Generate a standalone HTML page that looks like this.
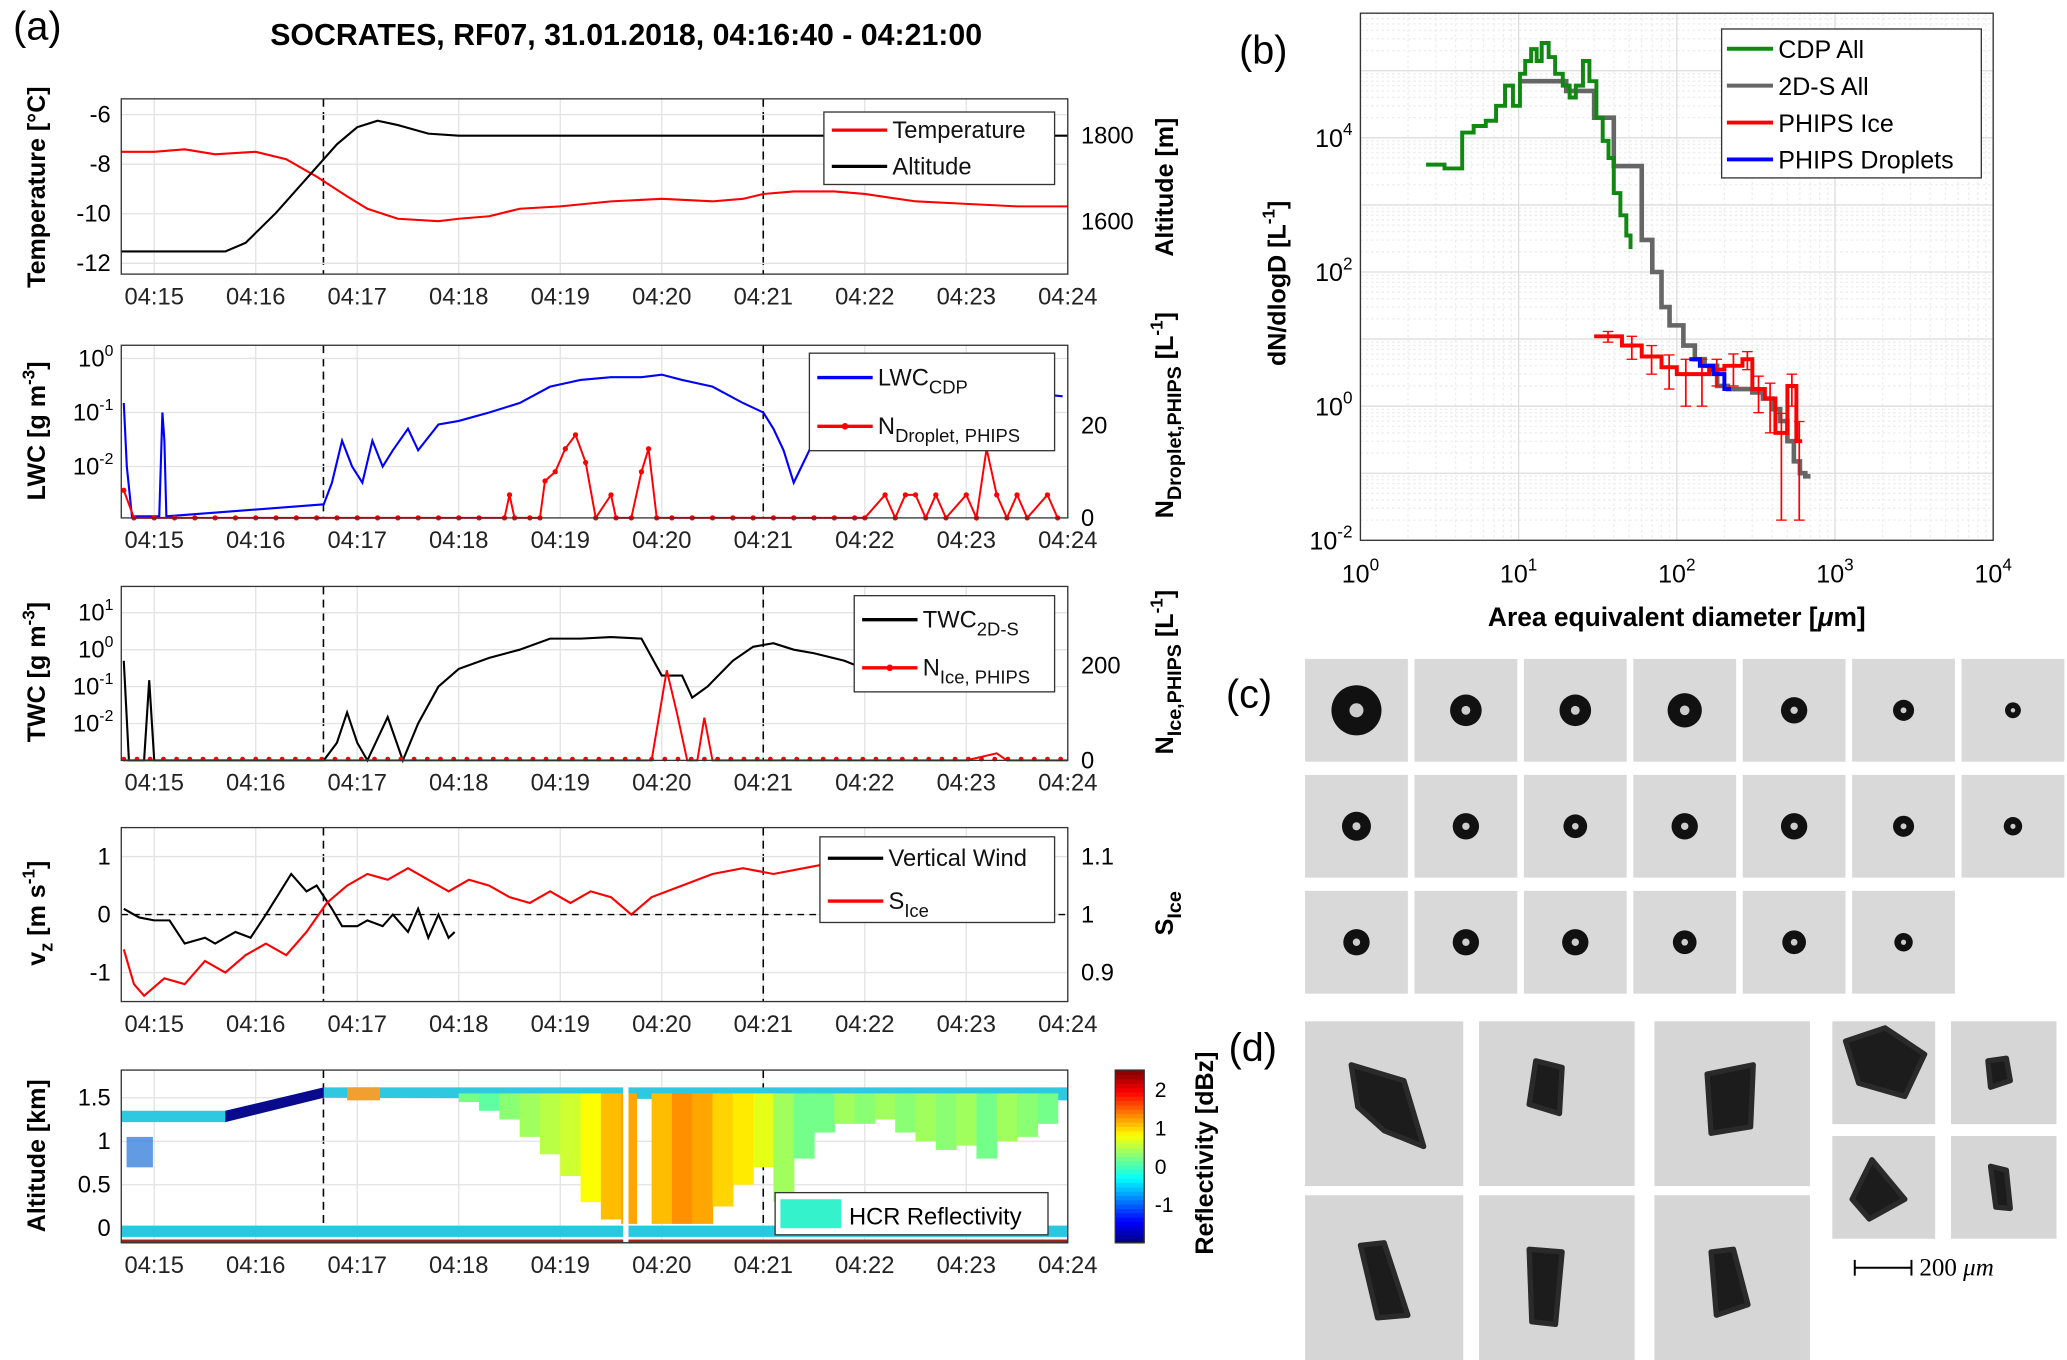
<!DOCTYPE html>
<html><head><meta charset="utf-8"><style>
html,body{margin:0;padding:0;background:#fff;}
svg{display:block;font-family:"Liberation Sans",sans-serif;}
</style></head><body>
<svg id="fig" width="2067" height="1360" viewBox="0 0 1568 1032" preserveAspectRatio="none" xmlns="http://www.w3.org/2000/svg">
<rect width="1568" height="1032" fill="#fff"/>
<g id="root"></g>
</svg>
<script>
// ---------- DATA (panel a) ----------
const timeTicks = ["04:15","04:16","04:17","04:18","04:19","04:20","04:21","04:22","04:23","04:24"];
const tempT = [-0.33,0,0.3,0.6,1,1.3,1.6,1.9,2.1,2.4,2.8,3,3.3,3.6,4,4.5,5,5.5,5.8,6,6.3,6.7,7,7.5,8,8.5,9];
const tempV = [-7.5,-7.5,-7.4,-7.6,-7.5,-7.8,-8.5,-9.3,-9.8,-10.2,-10.3,-10.2,-10.1,-9.8,-9.7,-9.5,-9.4,-9.5,-9.4,-9.2,-9.1,-9.1,-9.2,-9.5,-9.6,-9.7,-9.7];
const altT = [-0.33,0.7,0.9,1.2,1.5,1.8,2.0,2.2,2.4,2.7,3,9];
const altV = [1530,1530,1550,1620,1700,1780,1820,1835,1825,1805,1800,1800];
const lwcT = [-0.3,-0.27,-0.22,-0.2,0.05,0.08,0.1,0.12,1.67,1.75,1.85,1.95,2.05,2.15,2.25,2.35,2.5,2.6,2.8,3,3.3,3.6,3.9,4.2,4.5,4.8,5,5.2,5.5,5.8,6,6.1,6.2,6.3,6.5,6.7,6.9,7.1,7.3,7.5,8,8.95];
const lwcV = [0.15,0.01,0.0012,0.0012,0.0012,0.1,0.03,0.0012,0.002,0.005,0.03,0.01,0.005,0.03,0.01,0.02,0.05,0.02,0.06,0.07,0.1,0.15,0.3,0.4,0.45,0.45,0.5,0.4,0.3,0.15,0.1,0.05,0.02,0.005,0.03,0.12,0.3,0.35,0.3,0.2,0.3,0.2];
const ndT = [-0.3,-0.2,0,0.2,0.4,0.6,0.8,1,1.2,1.4,1.6,1.8,2,2.2,2.4,2.6,2.8,3,3.2,3.45,3.5,3.55,3.7,3.8,3.85,3.95,4.05,4.15,4.25,4.35,4.5,4.55,4.7,4.8,4.87,4.95,5.1,5.3,5.5,5.7,5.9,6.1,6.3,6.5,6.7,6.9,7.0,7.2,7.3,7.4,7.5,7.6,7.7,7.8,8.0,8.1,8.2,8.3,8.4,8.5,8.6,8.8,8.9];
const ndV = [6,0,0,0,0,0,0,0,0,0,0,0,0,0,0,0,0,0,0,0,5,0,0,0,8,10,15,18,12,0,5,0,0,10,15,0,0,0,0,0,0,0,0,0,0,0,0,5,0,5,5,0,5,0,5,0,15,5,0,5,0,5,0];
const twcT = [-0.3,-0.25,-0.1,-0.05,0.0,1.67,1.8,1.9,2.0,2.1,2.3,2.45,2.6,2.8,3,3.3,3.6,3.9,4.2,4.5,4.8,5.0,5.2,5.3,5.45,5.7,5.9,6.1,6.3,6.5,6.8,7.0];
const twcV = [0.5,0.001,0.001,0.15,0.001,0.001,0.003,0.02,0.003,0.001,0.015,0.001,0.01,0.1,0.3,0.6,1,2,2,2.2,2,0.2,0.2,0.05,0.1,0.5,1.2,1.5,1.0,0.8,0.5,0.3];
const niT = [-0.3,0,0.5,1,1.5,2,2.5,3,3.5,4,4.5,4.9,5.05,5.15,5.25,5.35,5.42,5.5,6,6.5,7,7.5,8,8.3,8.4,8.5,9];
const niV = [0,0,0,0,0,0,0,0,0,0,0,0,190,100,0,0,90,0,0,0,0,0,0,15,0,0,0];
const vzT = [-0.3,-0.15,0,0.15,0.3,0.5,0.6,0.8,0.95,1.1,1.35,1.5,1.6,1.75,1.85,2.0,2.1,2.25,2.35,2.5,2.6,2.7,2.8,2.9,2.96];
const vzV = [0.1,-0.05,-0.1,-0.1,-0.5,-0.4,-0.5,-0.3,-0.4,0,0.7,0.4,0.5,0.1,-0.2,-0.2,-0.1,-0.2,0,-0.3,0.1,-0.4,0,-0.4,-0.3];
const siT = [-0.3,-0.2,-0.1,0.1,0.3,0.5,0.7,0.9,1.1,1.3,1.5,1.7,1.9,2.1,2.3,2.5,2.7,2.9,3.1,3.3,3.5,3.7,3.9,4.1,4.3,4.5,4.7,4.9,5.2,5.5,5.8,6.1,6.4,6.7,6.9,7.1,7.3,7.5];
const siV = [0.94,0.88,0.86,0.89,0.88,0.92,0.90,0.93,0.95,0.93,0.97,1.02,1.05,1.07,1.06,1.08,1.06,1.04,1.06,1.05,1.03,1.02,1.04,1.02,1.04,1.03,1.0,1.03,1.05,1.07,1.08,1.07,1.08,1.09,1.1,1.13,1.1,1.08];
// radar columns: time, top km, bottom km, reflectivity dBZ
const radT = [3.0,3.2,3.4,3.6,3.8,4.0,4.2,4.4,4.6,4.75,4.9,5.1,5.3,5.5,5.7,5.9,6.1,6.3,6.5,6.7,6.9,7.1,7.3,7.5,7.7,7.9,8.1,8.3,8.5,8.7,8.9];
const radTop = [1.55,1.55,1.55,1.55,1.55,1.55,1.55,1.55,1.55,1.55,1.55,1.55,1.55,1.55,1.55,1.55,1.55,1.55,1.55,1.55,1.55,1.55,1.55,1.55,1.55,1.55,1.55,1.55,1.55,1.55,1.55];
const radBot = [1.45,1.35,1.25,1.05,0.85,0.6,0.3,0.1,0.05,0.05,0.05,0.05,0.05,0.25,0.5,0.7,0.3,0.8,1.1,1.2,1.2,1.25,1.1,1.0,0.9,0.95,0.8,1.0,1.05,1.2,1.0];
const radZ = [0.2,0.1,0.3,0.4,0.5,0.6,0.8,1.1,1.2,null,1.1,1.3,1.2,1.0,0.9,0.7,0.4,0.2,0.2,0.4,0.3,0.4,0.3,0.4,0.3,0.4,0.2,0.4,0.3,0.2,0.3];
// ---------- DATA (panel b) ----------
const cdpD = [2.6,3.4,4.4,5.2,6.2,7.2,8.2,9.2,10.2,11,12,13,14,15.5,17,19,21,23,25.5,28,31,34,37,40,44,48,51];
const cdpN = [4000,3500,12000,15000,18000,30000,60000,30000,90000,140000,210000,140000,260000,160000,90000,60000,40000,60000,140000,70000,20000,9000,5000,1500,700,350,220];
const sdsD = [10,20,30,40,50,60,70,80,90,110,130,150,180,210,250,300,350,400,450,500,550,600,650,700];
const sdsN = [70000,50000,20000,3800,3800,300,100,30,16,8,5,4,2,1.8,1.8,1.6,1.3,0.9,0.6,0.3,0.15,0.1,0.09];
const phD = [30,45,60,80,100,130,160,200,260,300,360,420,500,570,620];
const phN = [11,8,5.5,3.8,3,3,3.5,4,5,1.8,1.3,0.4,2,0.3];
const phErr = [2,3,2.5,2,2,2,1.5,2,1.5,1,0.9,0.38,1,0.29];
const pdD = [120,140,170,200,220];
const pdN = [5,4,3,1.8];
const xTickB = ["10","10","10","10","10"], xTickExpB = ["0","1","2","3","4"];
const yTickExpB = ["-2","0","2","4"];

// ---------- helpers ----------
const NS="http://www.w3.org/2000/svg";
const root=document.getElementById('root');
function mk(tag,attrs,parent,name,inter){const e=document.createElementNS(NS,tag);for(const k in attrs)e.setAttribute(k,attrs[k]);(parent||root).appendChild(e);if(name){}return e;}
function txt(x,y,s,attrs,name){const e=mk('text',Object.assign({x:x,y:y},attrs||{}),root);e.innerHTML=s;return e;}
const X0=92,X1=810;
const tx=t=>117+t*77;
function pathD(xs,ys,fx,fy){return xs.map((v,i)=>(i?'L':'M')+fx(v).toFixed(1)+','+fy(ys[i]).toFixed(1)).join('');}
function stepD(xs,ys,fx,fy){let d='';for(let i=0;i<ys.length;i++){d+=(i?'L':'M')+fx(xs[i]).toFixed(1)+','+fy(ys[i]).toFixed(1)+'L'+fx(xs[i+1]).toFixed(1)+','+fy(ys[i]).toFixed(1);}return d;}

function timeAxis(top,bot,name){
  const g=mk('g',{},root,name);
  for(let i=0;i<timeTicks.length;i++){const x=tx(i);mk('line',{x1:x,x2:x,y1:top,y2:bot,stroke:'#e3e3e3','stroke-width':1},g);
    const t=mk('text',{x:x,y:bot+23,'font-size':18,'text-anchor':'middle',fill:'#222'},g);t.textContent=timeTicks[i];
    
    }
  [1.667,6].forEach(t=>mk('line',{x1:tx(t),x2:tx(t),y1:top,y2:bot,stroke:'#000','stroke-width':1.2,'stroke-dasharray':'6,4'},g));
  return g;
}
function box(top,bot,name){mk('rect',{x:X0,y:top,width:X1-X0,height:bot-top,fill:'none',stroke:'#333','stroke-width':1},root,name);}
function legend(x,y,w,h,items,name){const g=mk('g',{},root,name);mk('rect',{x:x,y:y,width:w,height:h,fill:'#fff',stroke:'#333'},g);
  items.forEach((it,i)=>{const yy=y+h*(i+0.5)/items.length;mk('line',{x1:x+6,x2:x+48,y1:yy,y2:yy,stroke:it.c,'stroke-width':2.5},g);
    if(it.m)mk('circle',{cx:x+27,cy:yy,r:2.5,fill:it.c},g);
    const t=mk('text',{x:x+52,y:yy+6,'font-size':18,fill:'#111'},g);t.innerHTML=it.t;
    
    });}
function ylab(x,y,s,name,rot){const t=txt(x,y,s,{'font-size':19,'font-weight':'bold','text-anchor':'middle',transform:`rotate(${rot||-90} ${x} ${y})`},name);return t;}

// titles
txt(10,30,'(a)',{'font-size':30},'panel-a-label');
txt(475,34,'SOCRATES, RF07, 31.01.2018, 04:16:40 - 04:21:00',{'font-size':23,'font-weight':'bold','text-anchor':'middle'},'chart-title');

// ---- Panel 1: temperature / altitude ----
(function(){const top=75,bot=208;timeAxis(top,bot,'temp-x-axis');
 const fy=v=>87+(-6-v)*18.8, fa=v=>103-(v-1800)*0.325;
 [-6,-8,-10,-12].forEach(v=>{mk('line',{x1:X0,x2:X1,y1:fy(v),y2:fy(v),stroke:'#e3e3e3'});txt(84,fy(v)+6,String(v),{'font-size':18,'text-anchor':'end'},'y-tick-label');});
 [1800,1600].forEach(v=>txt(820,fa(v)+6,v,{'font-size':18},'y2-tick-label'));
 mk('path',{d:pathD(tempT,tempV,tx,fy),fill:'none',stroke:'#f00','stroke-width':1.6},root,'temperature-line');
 mk('path',{d:pathD(altT,altV,tx,fa),fill:'none',stroke:'#000','stroke-width':1.6},root,'altitude-line');
 box(top,bot,'temp-plot-area');
 legend(625,85,175,55,[{c:'#f00',t:'Temperature'},{c:'#000',t:'Altitude'}],'temp-legend');
 ylab(34,142,'Temperature [°C]','temperature-y-title');ylab(890,142,'Altitude [m]','altitude-y-title');})();

// ---- Panel 2: LWC ----
(function(){const top=262,bot=393;timeAxis(top,bot,'lwc-x-axis');
 const fy=v=>272-Math.log10(v)*41, fn=v=>393-v*3.5;
 [1,0.1,0.01].forEach((v,i)=>{mk('line',{x1:X0,x2:X1,y1:fy(v),y2:fy(v),stroke:'#e3e3e3'});txt(86,fy(v)+6,'10<tspan dy="-8" font-size="12">'+(i?'-'+i:'0')+'</tspan>',{'font-size':18,'text-anchor':'end'},'y-tick-label');});
 [20,0].forEach(v=>txt(820,fn(v)+6,v,{'font-size':18},'y2-tick-label'));
 mk('path',{d:pathD(lwcT,lwcV,tx,fy),fill:'none',stroke:'#00f','stroke-width':1.6},root,'lwc-cdp-line');
 mk('path',{d:pathD(ndT,ndV,tx,fn),fill:'none',stroke:'#f00','stroke-width':1.5},root,'n-droplet-line');
 const g=mk('g',{},root,'n-droplet-markers');ndT.forEach((t,i)=>mk('circle',{cx:tx(t),cy:fn(ndV[i]),r:2,fill:'#f00'},g));
 box(top,bot,'lwc-plot-area');
 legend(614,268,186,74,[{c:'#00f',t:'LWC<tspan dy="6" font-size="14">CDP</tspan>'},{c:'#f00',m:1,t:'N<tspan dy="6" font-size="14">Droplet, PHIPS</tspan>'}],'lwc-legend');
 ylab(34,327,'LWC [g m<tspan dy="-8" font-size="13">-3</tspan><tspan dy="8">]</tspan>','lwc-y-title');
 ylab(890,315,'N<tspan dy="6" font-size="15">Droplet,PHIPS</tspan><tspan dy="-6"> [L</tspan><tspan dy="-8" font-size="13">-1</tspan><tspan dy="8">]</tspan>','n-droplet-y-title');})();

// ---- Panel 3: TWC ----
(function(){const top=445,bot=577;timeAxis(top,bot,'twc-x-axis');
 const fy=v=>493-Math.log10(v)*28, fn=v=>577-v*0.36;
 [[10,'1'],[1,'0'],[0.1,'-1'],[0.01,'-2']].forEach(([v,e])=>{mk('line',{x1:X0,x2:X1,y1:fy(v),y2:fy(v),stroke:'#e3e3e3'});txt(86,fy(v)+6,'10<tspan dy="-8" font-size="12">'+e+'</tspan>',{'font-size':18,'text-anchor':'end'},'y-tick-label');});
 [200,0].forEach(v=>txt(820,fn(v)+6,v,{'font-size':18},'y2-tick-label'));
 mk('path',{d:pathD(twcT,twcV,tx,fy),fill:'none',stroke:'#000','stroke-width':1.6},root,'twc-line');
 mk('path',{d:pathD(niT,niV,tx,fn),fill:'none',stroke:'#f00','stroke-width':1.5},root,'n-ice-line');
 const g=mk('g',{},root,'n-ice-markers');for(let t=-0.3;t<=9.01;t+=0.13){mk('circle',{cx:tx(t),cy:576,r:1.8,fill:'#f00'},g);}
 box(top,bot,'twc-plot-area');
 legend(648,452,152,73,[{c:'#000',t:'TWC<tspan dy="6" font-size="14">2D-S</tspan>'},{c:'#f00',m:1,t:'N<tspan dy="6" font-size="14">Ice, PHIPS</tspan>'}],'twc-legend');
 ylab(34,510,'TWC [g m<tspan dy="-8" font-size="13">-3</tspan><tspan dy="8">]</tspan>','twc-y-title');
 ylab(890,510,'N<tspan dy="6" font-size="15">Ice,PHIPS</tspan><tspan dy="-6"> [L</tspan><tspan dy="-8" font-size="13">-1</tspan><tspan dy="8">]</tspan>','n-ice-y-title');})();

// ---- Panel 4: vz / Sice ----
(function(){const top=628,bot=760;timeAxis(top,bot,'vz-x-axis');
 const fy=v=>694-v*44, fs=v=>694-(v-1)*440;
 [1,0,-1].forEach(v=>{mk('line',{x1:X0,x2:X1,y1:fy(v),y2:fy(v),stroke:'#e3e3e3'});txt(84,fy(v)+6,v,{'font-size':18,'text-anchor':'end'},'y-tick-label');});
 [1.1,1,0.9].forEach(v=>txt(820,fs(v)+6,v,{'font-size':18},'y2-tick-label'));
 mk('line',{x1:X0,x2:X1,y1:fy(0),y2:fy(0),stroke:'#000','stroke-dasharray':'5,4'});
 mk('path',{d:pathD(vzT,vzV,tx,fy),fill:'none',stroke:'#000','stroke-width':1.6},root,'vertical-wind-line');
 mk('path',{d:pathD(siT,siV,tx,fs),fill:'none',stroke:'#f00','stroke-width':1.6},root,'s-ice-line');
 box(top,bot,'vz-plot-area');
 legend(622,635,178,65,[{c:'#000',t:'Vertical Wind'},{c:'#f00',t:'S<tspan dy="6" font-size="14">Ice</tspan>'}],'vz-legend');
 ylab(34,693,'v<tspan dy="6" font-size="14">z</tspan><tspan dy="-6"> [m s</tspan><tspan dy="-8" font-size="13">-1</tspan><tspan dy="8">]</tspan>','vz-y-title');
 ylab(890,693,'S<tspan dy="6" font-size="15">Ice</tspan>','s-ice-y-title');})();

// ---- Panel 5: radar ----
function jet(v){let f=Math.max(0,Math.min(1,(v+2)/4.5));const r=Math.max(0,Math.min(1,1.5-Math.abs(4*f-3))),g=Math.max(0,Math.min(1,1.5-Math.abs(4*f-2))),b=Math.max(0,Math.min(1,1.5-Math.abs(4*f-1)));return `rgb(${r*255|0},${g*255|0},${b*255|0})`;}
(function(){const top=812,bot=943;timeAxis(top,bot,'radar-x-axis');
 const fy=v=>932-v*66;
 [[1.5,'1.5'],[1,'1'],[0.5,'0.5'],[0,'0']].forEach(([v,s])=>{mk('line',{x1:X0,x2:X1,y1:fy(v),y2:fy(v),stroke:'#e3e3e3'});txt(84,fy(v)+6,s,{'font-size':18,'text-anchor':'end'},'y-tick-label');});
 const g=mk('g',{},root,'radar-heatmap');
 mk('path',{d:`M${X0},${fy(1.35)}L${tx(0.7)},${fy(1.35)}L${tx(1.67)},${fy(1.62)}L${tx(9)},${fy(1.62)}L${tx(9)},${fy(1.47)}L${tx(1.67)},${fy(1.5)}L${tx(0.7)},${fy(1.22)}L${X0},${fy(1.22)}Z`,fill:'#2ec8e0'},g);
 mk('path',{d:`M${tx(0.7)},${fy(1.35)}L${tx(1.67)},${fy(1.62)}L${tx(1.67)},${fy(1.5)}L${tx(0.7)},${fy(1.22)}Z`,fill:'#0a0a8f'},g);
 mk('rect',{x:tx(1.9),y:fy(1.62),width:25,height:fy(1.47)-fy(1.62),fill:'#f0a030'},g);
 mk('rect',{x:96,y:fy(1.05),width:20,height:fy(0.7)-fy(1.05),fill:'#2070d8',opacity:0.7},g);
 for(let i=0;i<radT.length-1;i++){if(radZ[i]===null)continue;const x=tx(radT[i]);const w=tx(radT[i+1])-x+0.5;
   mk('rect',{x:x,y:fy(radTop[i]),width:w,height:fy(radBot[i])-fy(radTop[i]),fill:jet(radZ[i])},g);}
 mk('rect',{x:X0,y:fy(0.03),width:X1-X0,height:fy(-0.1)-fy(0.03),fill:'#2ac8e0'},g);
 mk('rect',{x:X0,y:fy(-0.13),width:X1-X0,height:3,fill:'#a02020'},g);
 mk('rect',{x:tx(4.62),y:top,width:4,height:bot-top,fill:'#fff'},g);
 box(top,bot,'radar-plot-area');
 const lg=mk('g',{},root,'radar-legend');mk('rect',{x:588,y:905,width:207,height:32,fill:'#fff',stroke:'#333'},lg);mk('rect',{x:592,y:910,width:46,height:22,fill:'#33f2cc'},lg);
 const lt=mk('text',{x:644,y:929,'font-size':18},lg);lt.textContent='HCR Reflectivity';
 const cb=mk('g',{},root,'colorbar');const cbTop=812,cbBot=943;
 for(let k=0;k<40;k++){const v=-2+(4.5*(k+0.5)/40);const y=cbBot-(k+1)*(cbBot-cbTop)/40;mk('rect',{x:846,y:y,width:22,height:(cbBot-cbTop)/40+0.6,fill:jet(v)},cb);}
 mk('rect',{x:846,y:cbTop,width:22,height:cbBot-cbTop,fill:'none',stroke:'#333'},cb);
 [2,1,0,-1].forEach(v=>txt(876,cbBot-(v+2)/4.5*(cbBot-cbTop)+6,v,{'font-size':16},'colorbar-tick-label'));
 ylab(34,877,'Altitude [km]','radar-y-title');ylab(920,875,'Reflectivity [dBz]','colorbar-title');})();

// ---- Panel b ----
(function(){const L=1032,R=1512,T=10,B=410;
 const fx=d=>L+Math.log10(d)*(R-L)/4, fy=n=>B-(Math.log10(n)+2)*50.9;
 const g=mk('g',{},root,'psd-grid');
 for(let e=0;e<4;e++)for(let m=2;m<10;m++){const x=fx(m*Math.pow(10,e));mk('line',{x1:x,x2:x,y1:T,y2:B,stroke:'#eee','stroke-dasharray':'2,2'},g);}
 for(let e=-2;e<6;e++)for(let m=2;m<10;m++){const y=fy(m*Math.pow(10,e));if(y>T)mk('line',{x1:L,x2:R,y1:y,y2:y,stroke:'#eee','stroke-dasharray':'2,2'},g);}
 for(let e=0;e<=4;e++)mk('line',{x1:fx(Math.pow(10,e)),x2:fx(Math.pow(10,e)),y1:T,y2:B,stroke:'#ddd'},g);
 for(let e=-2;e<=5;e++)mk('line',{x1:L,x2:R,y1:fy(Math.pow(10,e)),y2:fy(Math.pow(10,e)),stroke:'#ddd'},g);
 xTickExpB.forEach((e,i)=>txt(fx(Math.pow(10,i)),442,xTickB[i]+'<tspan dy="-9" font-size="13">'+e+'</tspan>',{'font-size':19,'text-anchor':'middle'},'x-tick-label'));
 yTickExpB.forEach(e=>txt(1026,fy(Math.pow(10,+e))+7,'10<tspan dy="-9" font-size="13">'+e+'</tspan>',{'font-size':19,'text-anchor':'end'},'y-tick-label'));
 mk('path',{d:stepD(sdsD,sdsN,fx,fy),fill:'none',stroke:'#666','stroke-width':3.5},root,'2ds-all-line');
 mk('path',{d:stepD(cdpD,cdpN,fx,fy),fill:'none',stroke:'#118811','stroke-width':3},root,'cdp-all-line');
 mk('path',{d:stepD(phD,phN,fx,fy),fill:'none',stroke:'#f00','stroke-width':3},root,'phips-ice-line');
 const eb=mk('g',{},root,'phips-ice-errorbars');
 phN.forEach((n,i)=>{const x=fx(Math.sqrt(phD[i]*phD[i+1]));const y1=fy(n+phErr[i]),y2=fy(Math.max(n-phErr[i],0.02));mk('line',{x1:x,x2:x,y1:y1,y2:y2,stroke:'#f00','stroke-width':1.3},eb);mk('line',{x1:x-4,x2:x+4,y1:y1,y2:y1,stroke:'#f00'},eb);mk('line',{x1:x-4,x2:x+4,y1:y2,y2:y2,stroke:'#f00'},eb);});
 mk('path',{d:stepD(pdD,pdN,fx,fy),fill:'none',stroke:'#00f','stroke-width':3},root,'phips-droplet-line');
 mk('rect',{x:L,y:T,width:R-L,height:B-T,fill:'none',stroke:'#333'},root,'psd-plot-area');
 const lg=mk('g',{},root,'psd-legend');mk('rect',{x:1306,y:22,width:197,height:113,fill:'#fff',stroke:'#333'},lg);
 [['#118811','CDP All'],['#666','2D-S All'],['#f00','PHIPS Ice'],['#00f','PHIPS Droplets']].forEach(([c,s],i)=>{const y=37+i*28;mk('line',{x1:1310,x2:1345,y1:y,y2:y,stroke:c,'stroke-width':3},lg);const t=mk('text',{x:1349,y:y+7,'font-size':19},lg);t.textContent=s;
 });
 txt(940,48,'(b)',{'font-size':30},'panel-b-label');
 txt(1272,475,'Area equivalent diameter [<tspan font-style="italic">μ</tspan>m]',{'font-size':20,'font-weight':'bold','text-anchor':'middle'},'psd-x-title');
 ylab(975,215,'dN/dlogD [L<tspan dy="-8" font-size="13">-1</tspan><tspan dy="8">]</tspan>','psd-y-title');})();

// ---- Panel c: droplet images ----
const dropR=[[19,12,12,13,10,8,6],[11,10,9,10,10,8,7],[10,10,10,9,9,7]];
(function(){const g=mk('g',{},root,'droplet-images');txt(930,537,'(c)',{'font-size':30},'panel-c-label');
 dropR.forEach((row,r)=>row.forEach((rad,c)=>{const x=990+c*83,y=500+r*88;mk('rect',{x:x,y:y,width:78,height:78,fill:'#d9d9d9'},g);
  mk('circle',{cx:x+39,cy:y+39,r:rad,fill:'#111'},g);mk('circle',{cx:x+39,cy:y+39,r:rad*0.28,fill:'#ccc'},g);}));})();

// ---- Panel d: ice crystal images ----
(function(){const g=mk('g',{},root,'ice-crystal-images');txt(932,805,'(d)',{'font-size':30},'panel-d-label');
 const tiles=[[990,775,120,125,[[1025,808],[1065,820],[1080,870],[1050,858],[1030,840]]],[1122,775,118,125,[[1165,805],[1185,810],[1183,845],[1160,838]]],[1255,775,118,125,[[1295,815],[1330,808],[1328,855],[1298,860]]],
  [990,907,120,125,[[1032,945],[1050,943],[1068,998],[1045,1000]]],[1122,907,118,125,[[1160,948],[1185,950],[1180,1005],[1162,1003]]],[1255,907,118,125,[[1298,950],[1315,948],[1326,990],[1302,998]]],
  [1390,775,78,78,[[1400,790],[1430,780],[1460,800],[1445,832],[1410,822]]],[1480,775,80,78,[[1508,805],[1522,803],[1525,820],[1510,825]]],[1390,862,78,78,[[1420,880],[1445,910],[1418,925],[1405,910]]],[1480,862,80,78,[[1510,885],[1522,888],[1525,917],[1514,916]]]];
 tiles.forEach(t=>{mk('rect',{x:t[0],y:t[1],width:t[2],height:t[3],fill:'#d6d6d6'},g);mk('polygon',{points:t[4].map(p=>p.join(',')).join(' '),fill:'#1c1c1c',stroke:'#2a2a2a','stroke-width':4,'stroke-linejoin':'round'},g);});
 mk('path',{d:'M1407,956v12M1407,962h43M1450,956v12',stroke:'#000','stroke-width':1.5,fill:'none'},g,'scale-bar');
 txt(1456,968,'200 <tspan font-style="italic">μm</tspan>',{'font-size':19,'font-family':'Liberation Serif, serif'},'scale-bar-label');})();
</script>
</body></html>
